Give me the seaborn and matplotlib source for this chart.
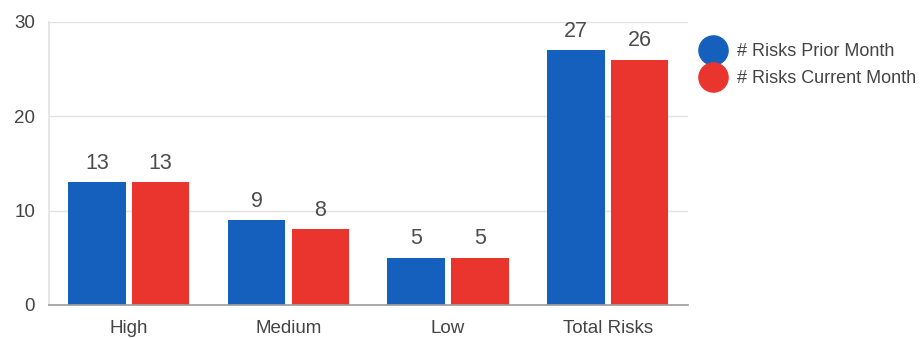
import pandas as pd
import seaborn as sns
import matplotlib.pyplot as plt
from matplotlib.lines import Line2D

# chart data
categories = ['High', 'Medium', 'Low', 'Total Risks']
series_names = ['# Risks Prior Month', '# Risks Current Month']
prior_month = [13, 9, 5, 27]
current_month = [13, 8, 5, 26]
y_ticks = [0, 10, 20, 30]

colors = ['#1560bd', '#e9352e']
text_color = '#444444'

df = pd.DataFrame({
    'category': categories * 2,
    'series': [series_names[0]] * len(categories) + [series_names[1]] * len(categories),
    'value': prior_month + current_month,
})

sns.set_theme(style='white')
plt.rcParams['font.family'] = ['Liberation Sans', 'DejaVu Sans']

fig = plt.figure(figsize=(9.23, 3.38), dpi=100)
ax = fig.add_axes([0.053, 0.098, 0.692, 0.837])

sns.barplot(data=df, x='category', y='value', hue='series', palette=colors,
            saturation=1, width=0.8, gap=0.1, linewidth=0, legend=False, ax=ax)

for cont in ax.containers:
    ax.bar_label(cont, fontsize=15.5, color='#4d4d4d', padding=6)

ax.set_ylim(0, 30)
ax.set_yticks(y_ticks)
ax.yaxis.grid(True, color='#e3e3e3', linewidth=1)
ax.set_axisbelow(True)
ax.set_xlabel('')
ax.set_ylabel('')
ax.tick_params(axis='y', length=8, color='#e3e3e3', labelsize=13.5, labelcolor=text_color, pad=2)
ax.tick_params(axis='x', length=0, labelsize=13.5, labelcolor=text_color, pad=11)

for side in ['top', 'right']:
    ax.spines[side].set_visible(False)
ax.spines['left'].set_color('#e3e3e3')
ax.spines['bottom'].set_color('#9e9e9e')

handles = [Line2D([], [], marker='o', linestyle='', markersize=21,
                  markerfacecolor=c, markeredgecolor=c) for c in colors]
fig.legend(handles, series_names, loc='upper left', bbox_to_anchor=(0.745, 0.893),
           frameon=False, fontsize=13, labelcolor=text_color,
           handletextpad=0.35, labelspacing=0.55, borderaxespad=0)

fig.savefig('out.png', dpi=100)
